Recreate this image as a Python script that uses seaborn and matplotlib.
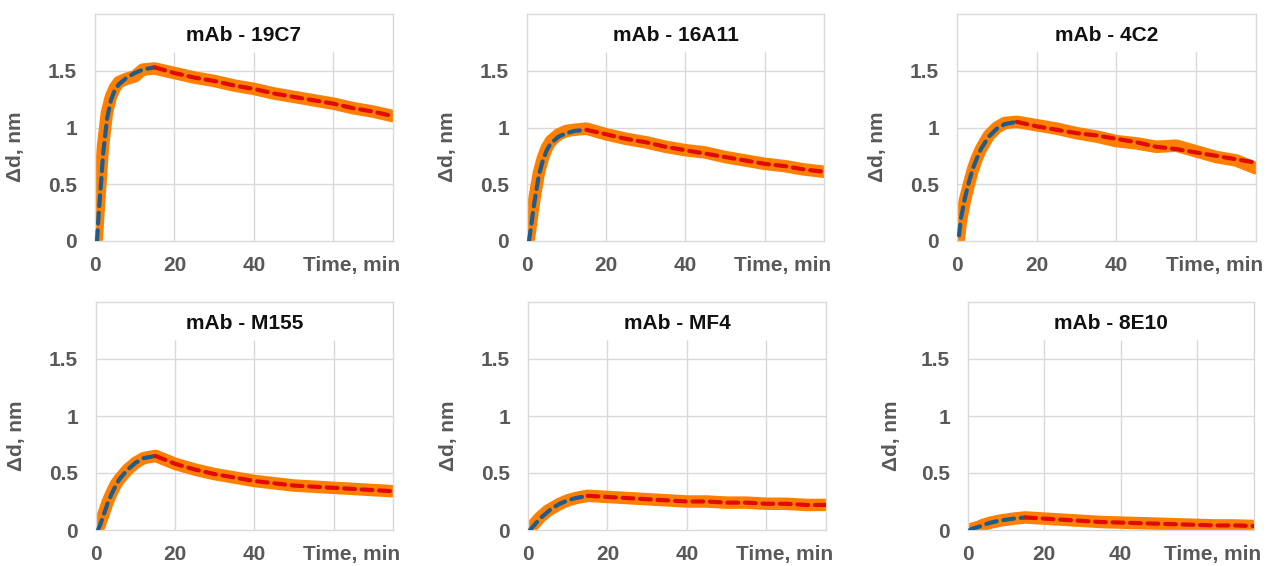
import matplotlib
matplotlib.use("Agg")
import matplotlib.pyplot as plt
import seaborn as sns
import pandas as pd

# ---------------- data ----------------
titles = ["mAb - 19C7", "mAb - 16A11", "mAb - 4C2", "mAb - M155", "mAb - MF4", "mAb - 8E10"]

t_assoc = [0.5, 1, 1.5, 2, 3, 4, 5, 6, 8, 10, 12, 15]
t_dissoc = [15, 20, 25, 30, 35, 40, 45, 50, 55, 60, 65, 70, 75]
t_meas = [0.4, 1, 1.5, 2, 3, 4, 5, 6, 8, 10, 12, 15, 20, 25, 30, 35, 40, 45, 50, 55, 60, 65, 70, 75]

# measured response (orange band)
meas_19C7 = [0.0, 0.32, 0.58, 0.83, 1.13, 1.27, 1.35, 1.40, 1.43, 1.45, 1.51, 1.52,
             1.48, 1.44, 1.41, 1.37, 1.34, 1.30, 1.27, 1.24, 1.21, 1.17, 1.14, 1.10]
meas_16A11 = [0.0, 0.15, 0.28, 0.40, 0.60, 0.73, 0.82, 0.88, 0.94, 0.97, 0.98, 0.99,
              0.94, 0.90, 0.87, 0.83, 0.80, 0.78, 0.74, 0.71, 0.68, 0.66, 0.63, 0.61]
meas_4C2 = [0.0, 0.18, 0.27, 0.36, 0.50, 0.63, 0.73, 0.81, 0.93, 1.00, 1.04, 1.05,
            1.02, 0.99, 0.95, 0.92, 0.88, 0.86, 0.83, 0.84, 0.79, 0.74, 0.71, 0.64]
meas_M155 = [0.0, 0.05, 0.10, 0.15, 0.25, 0.33, 0.40, 0.45, 0.53, 0.59, 0.63, 0.65,
             0.58, 0.53, 0.49, 0.46, 0.43, 0.41, 0.39, 0.38, 0.37, 0.36, 0.35, 0.34]
meas_MF4 = [0.0, 0.03, 0.05, 0.07, 0.11, 0.14, 0.17, 0.19, 0.23, 0.26, 0.28, 0.30,
            0.29, 0.28, 0.27, 0.26, 0.25, 0.25, 0.24, 0.24, 0.23, 0.23, 0.22, 0.22]
meas_8E10 = [0.0, 0.01, 0.015, 0.02, 0.03, 0.045, 0.055, 0.065, 0.08, 0.09, 0.10, 0.11,
             0.10, 0.09, 0.08, 0.07, 0.065, 0.06, 0.055, 0.05, 0.045, 0.04, 0.04, 0.035]

# association fit (blue dashed)
fa_19C7 = [0.0, 0.28, 0.50, 0.75, 1.07, 1.24, 1.33, 1.38, 1.44, 1.48, 1.51, 1.53]
fa_16A11 = [0.0, 0.12, 0.25, 0.37, 0.58, 0.71, 0.80, 0.86, 0.92, 0.95, 0.97, 0.98]
fa_4C2 = [0.05, 0.20, 0.29, 0.38, 0.52, 0.64, 0.73, 0.81, 0.92, 0.99, 1.03, 1.05]
fa_M155 = [0.0, 0.04, 0.09, 0.14, 0.24, 0.32, 0.39, 0.45, 0.53, 0.59, 0.63, 0.65]
fa_MF4 = [0.0, 0.02, 0.04, 0.06, 0.10, 0.13, 0.16, 0.19, 0.23, 0.26, 0.28, 0.30]
fa_8E10 = [0.0, 0.01, 0.015, 0.02, 0.03, 0.045, 0.055, 0.065, 0.08, 0.09, 0.10, 0.11]

# dissociation fit (red dashed)
fd_19C7 = [1.53, 1.48, 1.44, 1.41, 1.37, 1.34, 1.30, 1.27, 1.24, 1.21, 1.17, 1.14, 1.10]
fd_16A11 = [0.98, 0.94, 0.90, 0.87, 0.83, 0.80, 0.77, 0.74, 0.71, 0.68, 0.66, 0.63, 0.61]
fd_4C2 = [1.05, 1.01, 0.98, 0.95, 0.93, 0.90, 0.87, 0.83, 0.81, 0.78, 0.75, 0.72, 0.69]
fd_M155 = [0.65, 0.58, 0.53, 0.49, 0.46, 0.43, 0.41, 0.39, 0.38, 0.37, 0.36, 0.35, 0.34]
fd_MF4 = [0.30, 0.29, 0.28, 0.27, 0.26, 0.25, 0.25, 0.24, 0.24, 0.23, 0.23, 0.22, 0.22]
fd_8E10 = [0.11, 0.10, 0.09, 0.08, 0.07, 0.065, 0.06, 0.055, 0.05, 0.045, 0.04, 0.04, 0.035]

measured = [meas_19C7, meas_16A11, meas_4C2, meas_M155, meas_MF4, meas_8E10]
fit_assoc = [fa_19C7, fa_16A11, fa_4C2, fa_M155, fa_MF4, fa_8E10]
fit_dissoc = [fd_19C7, fd_16A11, fd_4C2, fd_M155, fd_MF4, fd_8E10]

x_ticks = [0, 20, 40, 60]
x_tick_labels = ["0", "20", "40", ""]
y_ticks = [0, 0.5, 1, 1.5]
y_tick_labels = ["0", "0.5", "1", "1.5"]

# ---------------- style ----------------
sns.set_theme(style="white")
plt.rcParams["font.family"] = ["Liberation Sans", "DejaVu Sans"]

W, H = 1272, 566
fig = plt.figure(figsize=(W / 100, H / 100), dpi=100)

# panel boxes in pixels: (left, right, top, bottom)
boxes = [(95, 393, 14, 241), (527, 824, 14, 241), (957, 1256, 14, 241),
         (96, 393, 302, 530), (528, 826, 302, 530), (968, 1254, 302, 530)]

ORANGE = "#FF8000"
BLUE = "#1F5C8E"
RED = "#E00A0A"
GRID = "#D9D9D9"
TXT = "#595959"
FS = 15

for i, (l, r, t, b) in enumerate(boxes):
    ax = fig.add_axes([l / W, (H - b) / H, (r - l) / W, (b - t) / H])
    ax.set_xlim(0, 75)
    ax.set_ylim(0, 2.0)
    for s in ax.spines.values():
        s.set_color(GRID)
        s.set_linewidth(1.0)
    # grid
    for yv in y_ticks[1:]:
        ax.axhline(yv, color=GRID, lw=1.0, zorder=0)
    for xv in x_ticks[1:]:
        ax.vlines(xv, 0, 1.665, color=GRID, lw=1.0, zorder=0)

    df_m = pd.DataFrame({"t": t_meas, "y": measured[i]})
    df_a = pd.DataFrame({"t": t_assoc, "y": fit_assoc[i]})
    df_d = pd.DataFrame({"t": t_dissoc, "y": fit_dissoc[i]})
    sns.lineplot(data=df_m, x="t", y="y", ax=ax, color=ORANGE, lw=9,
                 solid_capstyle="round", solid_joinstyle="round", zorder=2)
    sns.lineplot(data=df_a, x="t", y="y", ax=ax, color=BLUE, lw=3,
                 linestyle=(0, (2.6, 1.6)), dash_capstyle="round", zorder=3)
    sns.lineplot(data=df_d, x="t", y="y", ax=ax, color=RED, lw=3,
                 linestyle=(0, (2.6, 1.6)), dash_capstyle="round", zorder=3)

    ax.set_xticks(x_ticks)
    ax.set_xticklabels(x_tick_labels)
    ax.set_yticks(y_ticks)
    ax.set_yticklabels(y_tick_labels)
    ax.tick_params(axis="both", length=0, labelsize=FS, labelcolor=TXT)
    ax.tick_params(axis="y", pad=13)
    ax.tick_params(axis="x", pad=11)
    for lab in ax.get_xticklabels() + ax.get_yticklabels():
        lab.set_fontweight("bold")
    ax.set_xlabel("")
    ax.set_ylabel("Δd, nm", fontsize=FS, fontweight="bold", color=TXT)
    ax.yaxis.set_label_coords(-0.235, 0.415)
    ax.annotate("Time, min", xy=(1, 0), xycoords="axes fraction",
                xytext=(5, -11), textcoords="offset points",
                ha="right", va="top", fontsize=FS, fontweight="bold", color=TXT)
    ax.text(0.5, 0.905, titles[i], transform=ax.transAxes, ha="center", va="center",
            fontsize=15, fontweight="bold", color="#111111")
    ax.set_facecolor("white")

fig.savefig("out.png", dpi=100, facecolor="white")
